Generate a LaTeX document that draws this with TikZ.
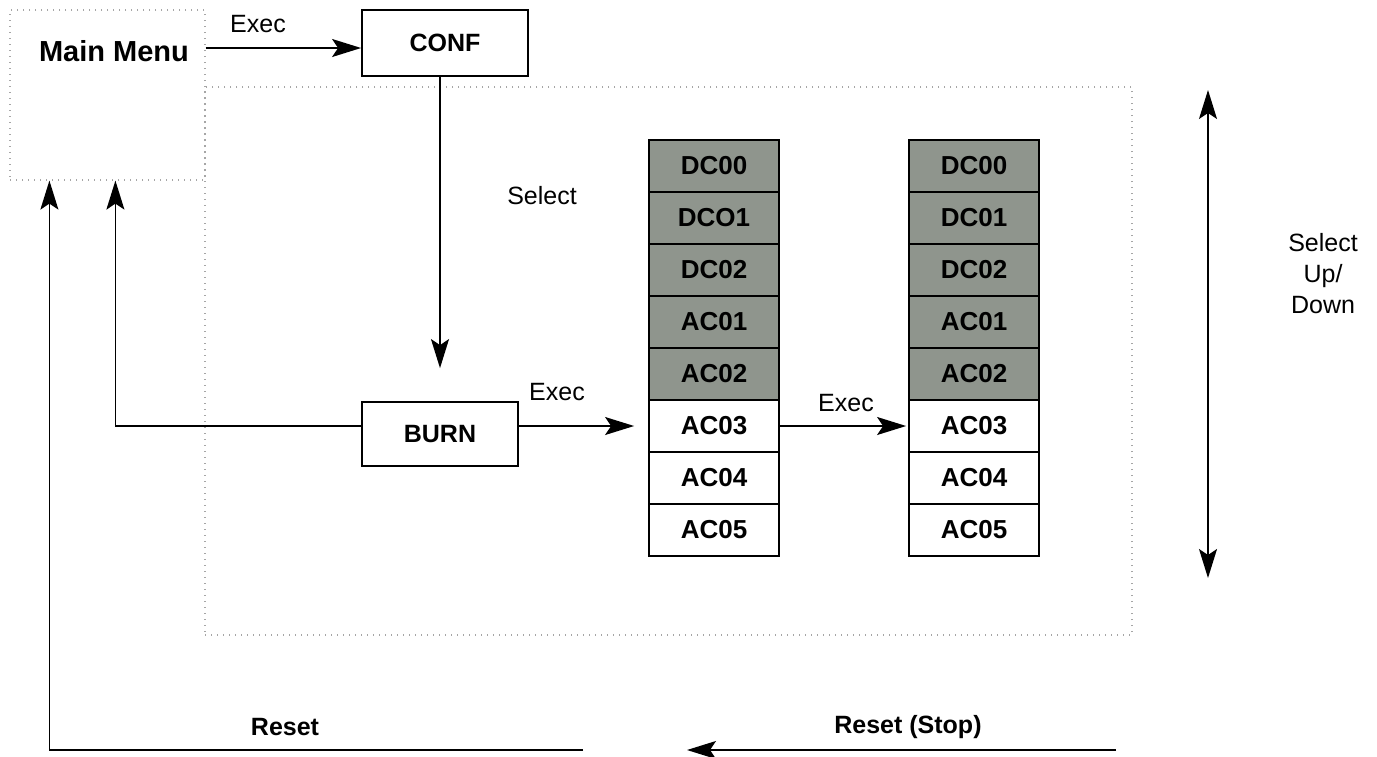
\documentclass[tikz,border=0pt]{standalone}
\usepackage{fontspec}
\setmainfont{Liberation Sans}
\usetikzlibrary{arrows.meta}
\definecolor{cellgray}{RGB}{143,149,141}
\begin{document}
\begin{tikzpicture}[x=1pt,y=-1pt,
  lbl/.style={font=\fontsize{25}{30}\selectfont, inner sep=0pt},
  blbl/.style={font=\fontsize{25}{30}\selectfont\bfseries, inner sep=0pt},
  boxn/.style={draw, line width=1.8pt, inner sep=0pt, font=\fontsize{25}{30}\selectfont\bfseries},
  dotbox/.style={draw=gray!70, line width=1.2pt, dash pattern=on 1.2pt off 4.8pt, inner sep=0pt},
  cell/.style={boxn, minimum width=130pt, minimum height=52pt, font=\fontsize{26}{30}\selectfont\bfseries},
  dark/.style={cell, fill=cellgray},
  light/.style={cell, fill=white},
  arr/.style={line width=1.5pt, -{Stealth[length=29pt,width=18pt,inset=6pt]}},
  darr/.style={line width=1.5pt, {Stealth[length=29pt,width=18pt,inset=6pt]}-{Stealth[length=29pt,width=18pt,inset=6pt]}}
]
\useasboundingbox (0,0) rectangle (1377,756);
\fill[white] (0,0) rectangle (1377,756);

% dotted frames
\node[dotbox, minimum width=927pt, minimum height=548pt] (big) at (668.5,361) {};
\node[dotbox, minimum width=195pt, minimum height=170pt] (mmbox) at (107.5,95) {};
\node[blbl, font=\fontsize{29}{30}\selectfont\bfseries] (mmtext) at (114,51) {Main Menu};

% boxes
\node[boxn, minimum width=166pt, minimum height=66pt] (conf) at (445,43) {CONF};
\node[boxn, minimum width=156pt, minimum height=64pt] (burn) at (440,434) {BURN};

\foreach \t/\u [count=\i] in {DC00/DC00,DCO1/DC01,DC02/DC02,AC01/AC01,AC02/AC02} {
  \node[dark] (l\i) at (714,114+52*\i) {\t};
  \node[dark] (r\i) at (974,114+52*\i) {\u};
}
\foreach \t [count=\j from 6] in {AC03,AC04,AC05} {
  \node[light] (l\j) at (714,114+52*\j) {\t};
  \node[light] (r\j) at (974,114+52*\j) {\t};
}

% connectors
\coordinate (cw) at ([yshift=-5pt]conf.west);
\draw[arr] (mmbox.east |- cw) -- (cw);
\node[lbl] (exec1) at (258,24) {Exec};

\draw[arr] (burn.north |- conf.south) -- ([yshift=33pt]burn.north);
\node[lbl] (select) at (542,196) {Select};

\draw[arr] (burn.east |- l6.west) -- ([xshift=-14pt]l6.west);
\node[lbl] (exec2) at (557,392) {Exec};

\draw[arr] (l6.east) -- ([xshift=-2pt]r6.west);
\node[lbl] (exec3) at (846,403) {Exec};

\draw[arr] (burn.west |- l6.west) -| ([xshift=106pt]mmbox.south west);

\coordinate (rl) at (583,750);
\coordinate (rr1) at (1116,750);
\coordinate (rr2) at (687,750);
\draw[arr] (rl) -| ([xshift=40pt]mmbox.south west);
\draw[arr] (rr1) -- (rr2);
\node[blbl] (reset) at (285,727) {Reset};
\node[blbl] (resetstop) at (908,727) {Reset (Stop)};

\coordinate (ud1) at (1208,90);
\coordinate (ud2) at (1208,578);
\draw[darr] (ud1) -- (ud2);
\node[lbl, align=center, font=\fontsize{25}{31}\selectfont] (updown) at (1323,274) {Select\\Up/\\Down};
\end{tikzpicture}
\end{document}
